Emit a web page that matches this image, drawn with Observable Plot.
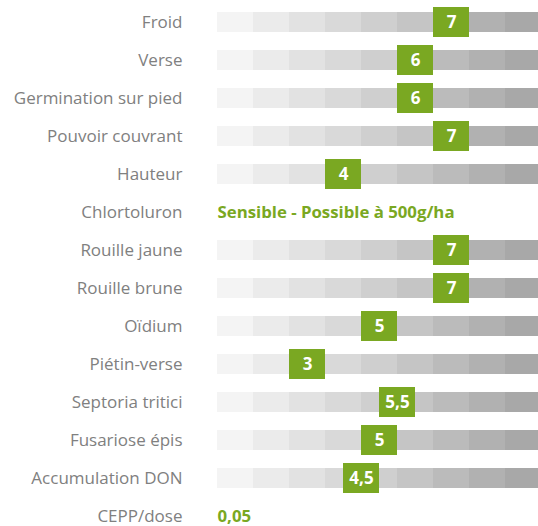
<!DOCTYPE html>
<html>
<head>
<meta charset="utf-8">
<script src="https://cdn.jsdelivr.net/npm/d3@7"></script>
<script src="https://cdn.jsdelivr.net/npm/@observablehq/plot@0.6"></script>
<style>
  html, body { margin: 0; padding: 0; background: #fff; overflow: hidden; }
  svg { overflow: hidden; }
</style>
</head>
<body>
<div id="chart"></div>
<script>
const criteria = ["Froid","Verse","Germination sur pied","Pouvoir couvrant","Hauteur","Chlortoluron","Rouille jaune","Rouille brune","Oïdium","Piétin-verse","Septoria tritici","Fusariose épis","Accumulation DON","CEPP/dose"];
const scores = [7,6,6,7,4,null,7,7,5,3,5.5,5,4.5,null];
const noteRows = ["Chlortoluron","CEPP/dose"];
const noteTexts = ["Sensible - Possible à 500g/ha","0,05"];
const segmentColors = ["#f4f4f4","#ebebeb","#e2e2e2","#d9d9d9","#cfcfcf","#c5c5c5","#bbbbbb","#b1b1b1","#a8a8a8"];
const green = "#7aa822";

const scored = criteria.map((c, i) => ({c, v: scores[i]})).filter(d => d.v != null);
const segments = [];
for (const d of scored) segmentColors.forEach((col, k) => segments.push({c: d.c, k, col}));
const notes = noteRows.map((c, i) => ({c, t: noteTexts[i]}));

const chart = Plot.plot({
  width: 538,
  height: 526,
  marginLeft: 217,
  marginRight: 0,
  marginTop: 0,
  marginBottom: 0,
  style: {fontFamily: "'Open Sans', sans-serif", background: "#fff"},
  x: {domain: [0, 9], range: [217, 541], axis: null},
  y: {domain: criteria, range: [3, 535], type: "band", paddingInner: 18/38, paddingOuter: 9/38, axis: null},
  marks: [
    Plot.axisY({anchor: "left", label: null, tickSize: 0, tickPadding: 35, fontSize: 17, color: "#808080", fill: "#808080"}),
    Plot.barX(segments, {y: "c", x1: "k", x2: d => d.k + 1, fill: "col"}),
    Plot.barX(scored, {y: "c", x1: d => d.v - 1, x2: "v", fill: green, insetTop: -5, insetBottom: -5}),
    Plot.text(scored, {y: "c", x: d => d.v - 0.5, text: d => String(d.v).replace(".", ","), fill: "#fff", fontWeight: "bold", fontSize: 17}),
    Plot.text(notes, {y: "c", x: () => 0, text: "t", fill: green, fontWeight: "bold", fontSize: 16.8, textAnchor: "start"})
  ]
});
document.getElementById("chart").append(chart);
</script>
</body>
</html>
